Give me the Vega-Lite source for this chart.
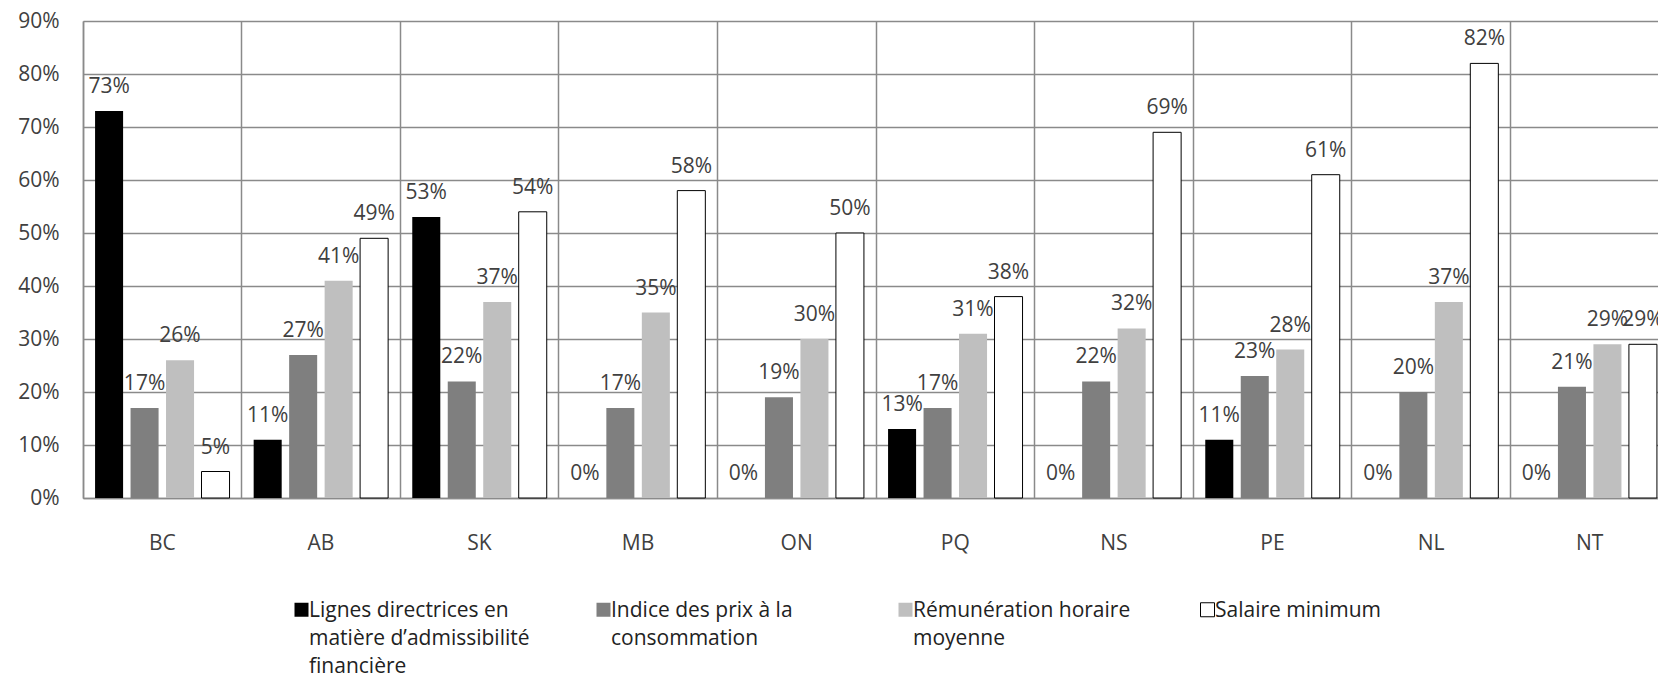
{
  "$schema": "https://vega.github.io/schema/vega-lite/v6.json",
  "width": 1586,
  "height": 477,
  "autosize": {"type": "none"},
  "padding": {"left": 83, "top": 21, "right": 0, "bottom": 177},
  "background": "white",
  "config": {
    "font": "Open Sans",
    "view": {"stroke": null}
  },
  "data": {
    "values": [
      {"prov": "BC", "serie": "Lignes directrices en matière d’admissibilité financière", "val": 0.73},
      {"prov": "BC", "serie": "Indice des prix à la consommation", "val": 0.17},
      {"prov": "BC", "serie": "Rémunération horaire moyenne", "val": 0.26},
      {"prov": "BC", "serie": "Salaire minimum", "val": 0.05},
      {"prov": "AB", "serie": "Lignes directrices en matière d’admissibilité financière", "val": 0.11},
      {"prov": "AB", "serie": "Indice des prix à la consommation", "val": 0.27},
      {"prov": "AB", "serie": "Rémunération horaire moyenne", "val": 0.41},
      {"prov": "AB", "serie": "Salaire minimum", "val": 0.49},
      {"prov": "SK", "serie": "Lignes directrices en matière d’admissibilité financière", "val": 0.53},
      {"prov": "SK", "serie": "Indice des prix à la consommation", "val": 0.22},
      {"prov": "SK", "serie": "Rémunération horaire moyenne", "val": 0.37},
      {"prov": "SK", "serie": "Salaire minimum", "val": 0.54},
      {"prov": "MB", "serie": "Lignes directrices en matière d’admissibilité financière", "val": 0},
      {"prov": "MB", "serie": "Indice des prix à la consommation", "val": 0.17},
      {"prov": "MB", "serie": "Rémunération horaire moyenne", "val": 0.35},
      {"prov": "MB", "serie": "Salaire minimum", "val": 0.58},
      {"prov": "ON", "serie": "Lignes directrices en matière d’admissibilité financière", "val": 0},
      {"prov": "ON", "serie": "Indice des prix à la consommation", "val": 0.19},
      {"prov": "ON", "serie": "Rémunération horaire moyenne", "val": 0.30},
      {"prov": "ON", "serie": "Salaire minimum", "val": 0.50},
      {"prov": "PQ", "serie": "Lignes directrices en matière d’admissibilité financière", "val": 0.13},
      {"prov": "PQ", "serie": "Indice des prix à la consommation", "val": 0.17},
      {"prov": "PQ", "serie": "Rémunération horaire moyenne", "val": 0.31},
      {"prov": "PQ", "serie": "Salaire minimum", "val": 0.38},
      {"prov": "NS", "serie": "Lignes directrices en matière d’admissibilité financière", "val": 0},
      {"prov": "NS", "serie": "Indice des prix à la consommation", "val": 0.22},
      {"prov": "NS", "serie": "Rémunération horaire moyenne", "val": 0.32},
      {"prov": "NS", "serie": "Salaire minimum", "val": 0.69},
      {"prov": "PE", "serie": "Lignes directrices en matière d’admissibilité financière", "val": 0.11},
      {"prov": "PE", "serie": "Indice des prix à la consommation", "val": 0.23},
      {"prov": "PE", "serie": "Rémunération horaire moyenne", "val": 0.28},
      {"prov": "PE", "serie": "Salaire minimum", "val": 0.61},
      {"prov": "NL", "serie": "Lignes directrices en matière d’admissibilité financière", "val": 0},
      {"prov": "NL", "serie": "Indice des prix à la consommation", "val": 0.20},
      {"prov": "NL", "serie": "Rémunération horaire moyenne", "val": 0.37},
      {"prov": "NL", "serie": "Salaire minimum", "val": 0.82},
      {"prov": "NT", "serie": "Lignes directrices en matière d’admissibilité financière", "val": 0},
      {"prov": "NT", "serie": "Indice des prix à la consommation", "val": 0.21},
      {"prov": "NT", "serie": "Rémunération horaire moyenne", "val": 0.29},
      {"prov": "NT", "serie": "Salaire minimum", "val": 0.29}
    ]
  },
  "encoding": {
    "x": {
      "field": "prov",
      "type": "nominal",
      "sort": null,
      "scale": {"paddingInner": 0, "paddingOuter": 0},
      "axis": {
        "title": null,
        "labelAngle": 0,
        "grid": true,
        "bandPosition": 0,
        "gridColor": "#8a8a8a",
        "gridWidth": 1.5,
        "domainColor": "#8a8a8a",
        "domainWidth": 1.5,
        "ticks": false,
        "tickSize": 0,
        "labelPadding": 34,
        "labelBaseline": "top",
        "labelFontSize": 21,
        "labelColor": "#404040"
      }
    },
    "xOffset": {
      "field": "serie",
      "type": "nominal",
      "sort": [
        "Lignes directrices en matière d’admissibilité financière",
        "Indice des prix à la consommation",
        "Rémunération horaire moyenne",
        "Salaire minimum"
      ],
      "scale": {"paddingInner": 0.21, "paddingOuter": 0.34}
    },
    "y": {
      "field": "val",
      "type": "quantitative",
      "scale": {"domain": [0, 0.9], "nice": false},
      "axis": {
        "title": null,
        "values": [0, 0.1, 0.2, 0.3, 0.4, 0.5, 0.6, 0.7, 0.8, 0.9],
        "format": ".0%",
        "grid": true,
        "gridColor": "#8a8a8a",
        "gridWidth": 1.5,
        "domainColor": "#8a8a8a",
        "domainWidth": 1.5,
        "ticks": false,
        "tickSize": 0,
        "labelPadding": 24,
        "labelFontSize": 21,
        "labelColor": "#404040"
      }
    }
  },
  "layer": [
    {
      "mark": {"type": "bar", "strokeWidth": 1},
      "encoding": {
        "color": {
          "field": "serie",
          "type": "nominal",
          "scale": {
            "domain": [
              "Lignes directrices en matière d’admissibilité financière",
              "Indice des prix à la consommation",
              "Rémunération horaire moyenne",
              "Salaire minimum"
            ],
            "range": ["#000000", "#7f7f7f", "#bfbfbf", "#ffffff"]
          },
          "legend": {
            "title": null,
            "orient": "none",
            "legendX": 208,
            "legendY": 578,
            "direction": "horizontal",
            "columns": 4,
            "gridAlign": "all",
            "columnPadding": 63,
            "symbolType": "square",
            "symbolSize": 196,
            "symbolStrokeWidth": 1,
            "labelOffset": -3,
            "labelLimit": 400,
            "labelFontSize": 21,
            "labelColor": "#222222",
            "labelBaseline": "top",
            "labelExpr": "datum.value === 'Lignes directrices en matière d’admissibilité financière' ? ['Lignes directrices en', 'matière d’admissibilité', 'financière'] : datum.value === 'Indice des prix à la consommation' ? ['Indice des prix à la', 'consommation', ''] : datum.value === 'Rémunération horaire moyenne' ? ['Rémunération horaire', 'moyenne', ''] : [datum.value, '', '']",
            "encode": {"labels": {"update": {"lineHeight": {"value": 28}, "dy": {"value": -10}}}}
          }
        },
        "stroke": {
          "field": "serie",
          "type": "nominal",
          "scale": {
            "domain": [
              "Lignes directrices en matière d’admissibilité financière",
              "Indice des prix à la consommation",
              "Rémunération horaire moyenne",
              "Salaire minimum"
            ],
            "range": ["transparent", "transparent", "transparent", "#000000"]
          },
          "legend": null
        }
      }
    },
    {
      "mark": {
        "type": "text",
        "baseline": "alphabetic",
        "dy": -18,
        "fontSize": 21,
        "color": "#404040"
      },
      "encoding": {
        "text": {"field": "val", "type": "quantitative", "format": ".0%"}
      }
    }
  ]
}
